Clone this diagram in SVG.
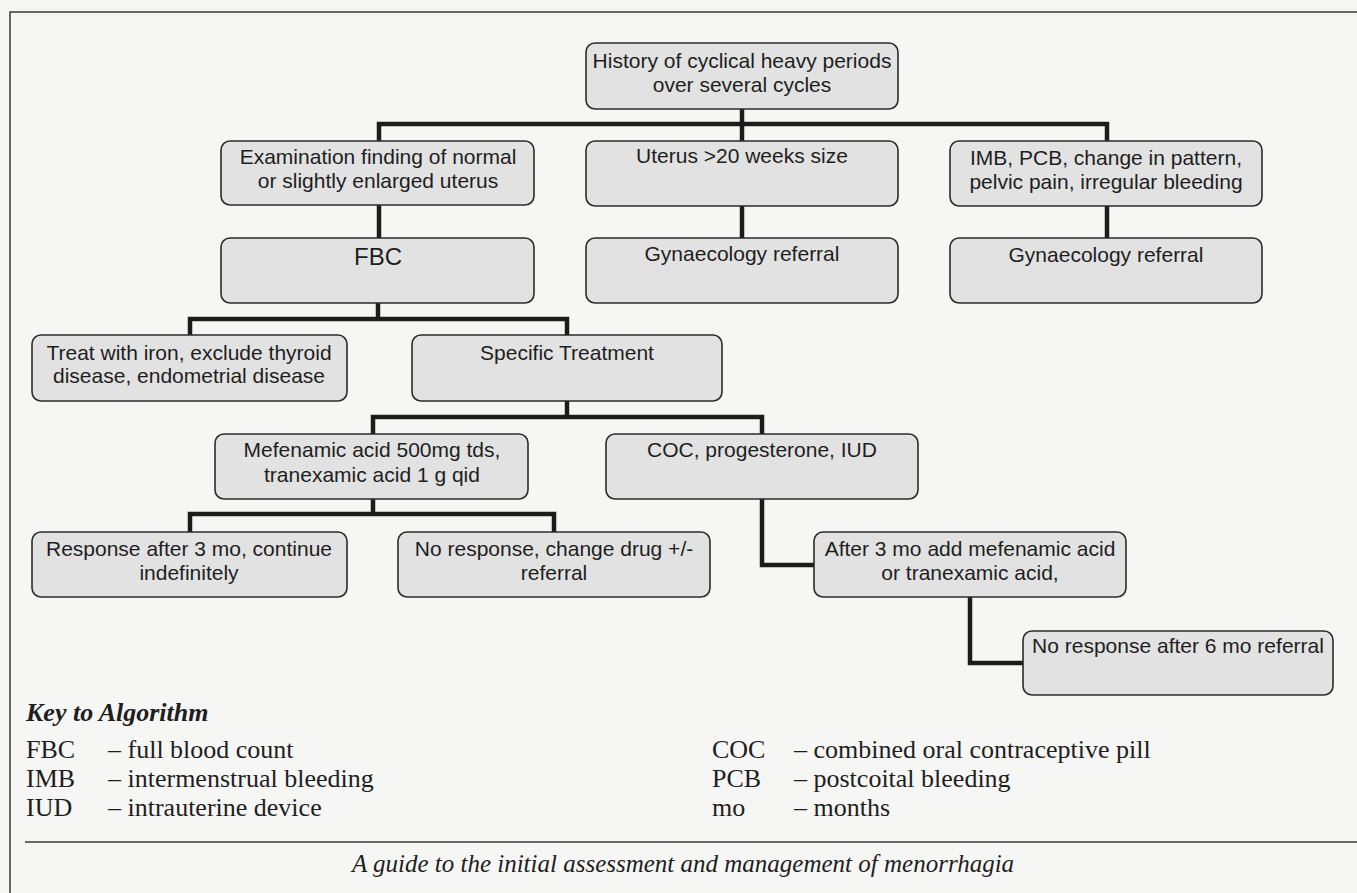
<svg xmlns="http://www.w3.org/2000/svg" width="1357" height="893" viewBox="0 0 1357 893">
  <style>
    .bg { fill: #f6f6f5; }
    .frame { stroke: #3a3a3a; stroke-width: 1.5; fill: none; }
    .box { fill: #e2e2e2; stroke: #2b2b2b; stroke-width: 1.6; }
    .t { font-family: "Liberation Sans", Arial, sans-serif; font-size: 21px; fill: #1e1e1e; text-anchor: middle; }
    .big { font-size: 24px; }
    .conn { fill: none; stroke: #1c1c1c; stroke-width: 4.5; stroke-linejoin: miter; stroke-linecap: butt; }
    .key { font-family: "Liberation Serif", "Times New Roman", serif; font-size: 26px; fill: #1e1e1e; }
    .keyh { font-weight: bold; font-style: italic; }
    .cap { font-family: "Liberation Serif", "Times New Roman", serif; font-size: 25px; font-style: italic; fill: #1e1e1e; text-anchor: middle; }
  </style>
  <rect class="bg" x="0" y="0" width="1357" height="893"/>
  <path class="frame" d="M1357,12 H10 V893"/>
  <path class="frame" d="M25,842 H1357"/>

  <g id="connectors">
    <path class="conn" d="M742,109 V141"/>
    <path class="conn" d="M379,141 V124 H1107 V141"/>
    <path class="conn" d="M379,205 V238"/>
    <path class="conn" d="M742,206 V238"/>
    <path class="conn" d="M1107,206 V238"/>
    <path class="conn" d="M378,303 V319"/>
    <path class="conn" d="M190,335 V319 H567 V335"/>
    <path class="conn" d="M567,401 V417"/>
    <path class="conn" d="M373,434 V417 H762 V434"/>
    <path class="conn" d="M373,499 V514"/>
    <path class="conn" d="M190,532 V514 H554 V532"/>
    <path class="conn" d="M762,499 V565 H814"/>
    <path class="conn" d="M970,597 V663 H1023"/>
  </g>

  <g id="n-root">
    <rect class="box" x="586" y="43" width="312" height="66" rx="9"/>
    <text class="t" x="742" y="68">History of cyclical heavy periods</text>
    <text class="t" x="742" y="92">over several cycles</text>
  </g>
  <g id="n-exam">
    <rect class="box" x="221" y="141" width="313" height="64" rx="9"/>
    <text class="t" x="378" y="164">Examination finding of normal</text>
    <text class="t" x="378" y="188">or slightly enlarged uterus</text>
  </g>
  <g id="n-uterus">
    <rect class="box" x="586" y="141" width="312" height="65" rx="9"/>
    <text class="t" x="742" y="163">Uterus &gt;20 weeks size</text>
  </g>
  <g id="n-imb">
    <rect class="box" x="950" y="141" width="312" height="65" rx="9"/>
    <text class="t" x="1106" y="165">IMB, PCB, change in pattern,</text>
    <text class="t" x="1106" y="189">pelvic pain, irregular bleeding</text>
  </g>
  <g id="n-fbc">
    <rect class="box" x="221" y="238" width="313" height="65" rx="9"/>
    <text class="t big" x="378" y="265">FBC</text>
  </g>
  <g id="n-gyn1">
    <rect class="box" x="586" y="238" width="312" height="65" rx="9"/>
    <text class="t" x="742" y="261">Gynaecology referral</text>
  </g>
  <g id="n-gyn2">
    <rect class="box" x="950" y="238" width="312" height="65" rx="9"/>
    <text class="t" x="1106" y="262">Gynaecology referral</text>
  </g>
  <g id="n-iron">
    <rect class="box" x="32" y="335" width="315" height="66" rx="9"/>
    <text class="t" x="189" y="360">Treat with iron, exclude thyroid</text>
    <text class="t" x="189" y="383">disease, endometrial disease</text>
  </g>
  <g id="n-specific">
    <rect class="box" x="412" y="335" width="310" height="66" rx="9"/>
    <text class="t" x="567" y="360">Specific Treatment</text>
  </g>
  <g id="n-mef">
    <rect class="box" x="215" y="434" width="313" height="65" rx="9"/>
    <text class="t" x="372" y="457">Mefenamic acid 500mg tds,</text>
    <text class="t" x="372" y="482">tranexamic acid 1 g qid</text>
  </g>
  <g id="n-coc">
    <rect class="box" x="606" y="434" width="312" height="65" rx="9"/>
    <text class="t" x="762" y="457">COC, progesterone, IUD</text>
  </g>
  <g id="n-response">
    <rect class="box" x="32" y="532" width="315" height="65" rx="9"/>
    <text class="t" x="189" y="556">Response after 3 mo, continue</text>
    <text class="t" x="189" y="580">indefinitely</text>
  </g>
  <g id="n-noresponse">
    <rect class="box" x="398" y="532" width="312" height="65" rx="9"/>
    <text class="t" x="554" y="556">No response, change drug +/-</text>
    <text class="t" x="554" y="580">referral</text>
  </g>
  <g id="n-after">
    <rect class="box" x="814" y="532" width="312" height="65" rx="9"/>
    <text class="t" x="970" y="556">After 3 mo add mefenamic acid</text>
    <text class="t" x="970" y="580">or tranexamic acid,</text>
  </g>
  <g id="n-no6">
    <rect class="box" x="1023" y="631" width="310" height="64" rx="9"/>
    <text class="t" x="1178" y="653">No response after 6 mo referral</text>
  </g>

  <g id="key">
    <text class="key keyh" x="26" y="721">Key to Algorithm</text>
    <text class="key" x="26" y="758">FBC</text>
    <text class="key" x="108" y="758">– full blood count</text>
    <text class="key" x="26" y="787">IMB</text>
    <text class="key" x="108" y="787">– intermenstrual bleeding</text>
    <text class="key" x="26" y="816">IUD</text>
    <text class="key" x="108" y="816">– intrauterine device</text>
    <text class="key" x="712" y="758">COC</text>
    <text class="key" x="794" y="758">– combined oral contraceptive pill</text>
    <text class="key" x="712" y="787">PCB</text>
    <text class="key" x="794" y="787">– postcoital bleeding</text>
    <text class="key" x="712" y="816">mo</text>
    <text class="key" x="794" y="816">– months</text>
  </g>
  <text class="cap" x="683" y="872">A guide to the initial assessment and management of menorrhagia</text>
</svg>
